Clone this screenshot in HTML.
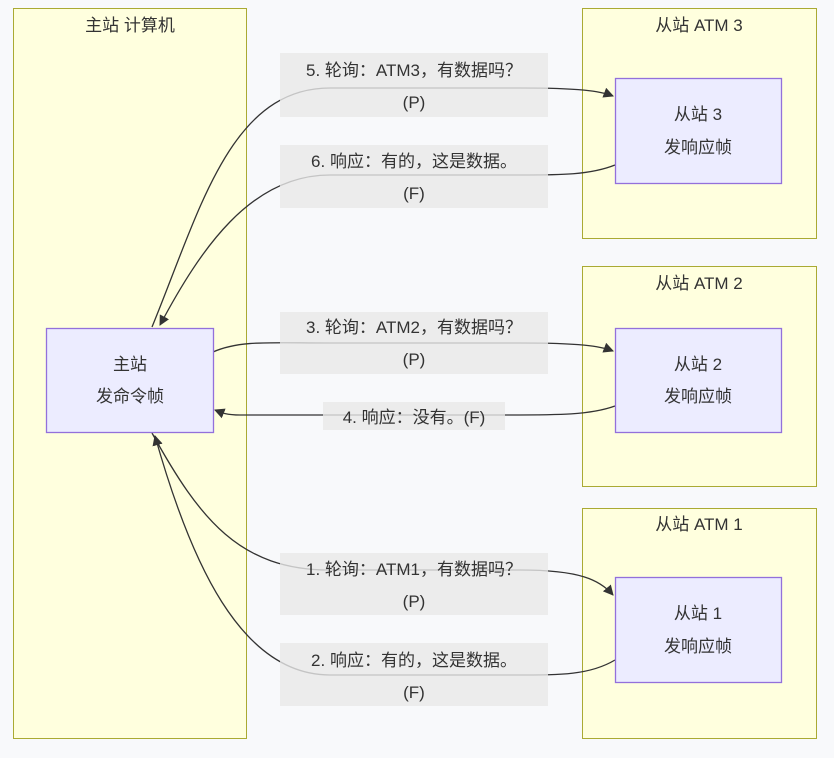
<!DOCTYPE html>
<html><head><meta charset="utf-8"><style>
body{margin:0;background:#f8f9fb;}
text{font-family:"Liberation Sans","Noto Sans CJK SC",sans-serif;font-size:17px;fill:#333;}
</style></head><body>
<svg width="834" height="753" viewBox="0 0 834 753" xmlns="http://www.w3.org/2000/svg">
<defs><marker id="a" viewBox="0 0 10 10" refX="9" refY="5" markerWidth="8" markerHeight="8" orient="auto"><path d="M0,0L10,5L0,10z" fill="#333"/></marker></defs>
<rect x="0" y="0" width="834" height="753" fill="#f8f9fb"/>
<g fill="#ffffde" stroke="#aaaa33" stroke-width="1">
<rect x="13.5" y="8.5" width="233" height="730"/>
<rect x="582.5" y="8.5" width="234" height="230"/>
<rect x="582.5" y="266.5" width="234" height="220"/>
<rect x="582.5" y="508.5" width="234" height="230"/>
</g>
<g text-anchor="middle">
<text x="130" y="31">主站 计算机</text>
<text x="699" y="31">从站 ATM 3</text>
<text x="699" y="289">从站 ATM 2</text>
<text x="699" y="530">从站 ATM 1</text>
</g>
<g fill="none" stroke="#333" stroke-width="1.3">
<path d="M152,327 C200,210 230,88 330,88 L520,88 C580,88 600,91 613,96" marker-end="url(#a)"/>
<path d="M615,165 C590,175 560,175 520,175 L330,175 C250,175 200,250 160,325" marker-end="url(#a)"/>
<path d="M213,352 C240,340 270,343 330,343 L520,343 C580,343 600,346 613,351" marker-end="url(#a)"/>
<path d="M615,406 C590,415 560,415 505,415 L240,415 C225,415 220,412 215,410" marker-end="url(#a)"/>
<path d="M152,433 C200,520 240,570 330,570 L520,570 C580,570 600,580 613,595" marker-end="url(#a)"/>
<path d="M615,660 C590,675 560,675 520,675 L330,675 C240,675 190,560 155,436" marker-end="url(#a)"/>
</g>
<g fill="#e8e8e8" fill-opacity="0.8">
<rect x="280" y="53" width="268" height="64"/>
<rect x="280" y="145" width="268" height="63"/>
<rect x="280" y="312" width="268" height="62"/>
<rect x="323" y="402" width="182" height="28"/>
<rect x="280" y="553" width="268" height="62"/>
<rect x="280" y="643" width="268" height="63"/>
</g>
<g text-anchor="middle">
<text x="414" y="76">5. 轮询：ATM3，有数据吗？</text><text x="414" y="108">(P)</text>
<text x="414" y="167">6. 响应：有的，这是数据。</text><text x="414" y="199">(F)</text>
<text x="414" y="333">3. 轮询：ATM2，有数据吗？</text><text x="414" y="365">(P)</text>
<text x="414" y="423">4. 响应：没有。(F)</text>
<text x="414" y="575">1. 轮询：ATM1，有数据吗？</text><text x="414" y="607">(P)</text>
<text x="414" y="666">2. 响应：有的，这是数据。</text><text x="414" y="698">(F)</text>
</g>
<g fill="#ececff" stroke="#9370db" stroke-width="1.3">
<rect x="46.5" y="328.5" width="167" height="104"/>
<rect x="615.5" y="78.5" width="166" height="105"/>
<rect x="615.5" y="328.5" width="166" height="104"/>
<rect x="615.5" y="577.5" width="166" height="105"/>
</g>
<g text-anchor="middle">
<text x="130" y="370">主站</text><text x="130" y="402">发命令帧</text>
<text x="698" y="120">从站 3</text><text x="698" y="153">发响应帧</text>
<text x="698" y="370">从站 2</text><text x="698" y="402">发响应帧</text>
<text x="698" y="619">从站 1</text><text x="698" y="652">发响应帧</text>
</g>
</svg>
</body></html>
